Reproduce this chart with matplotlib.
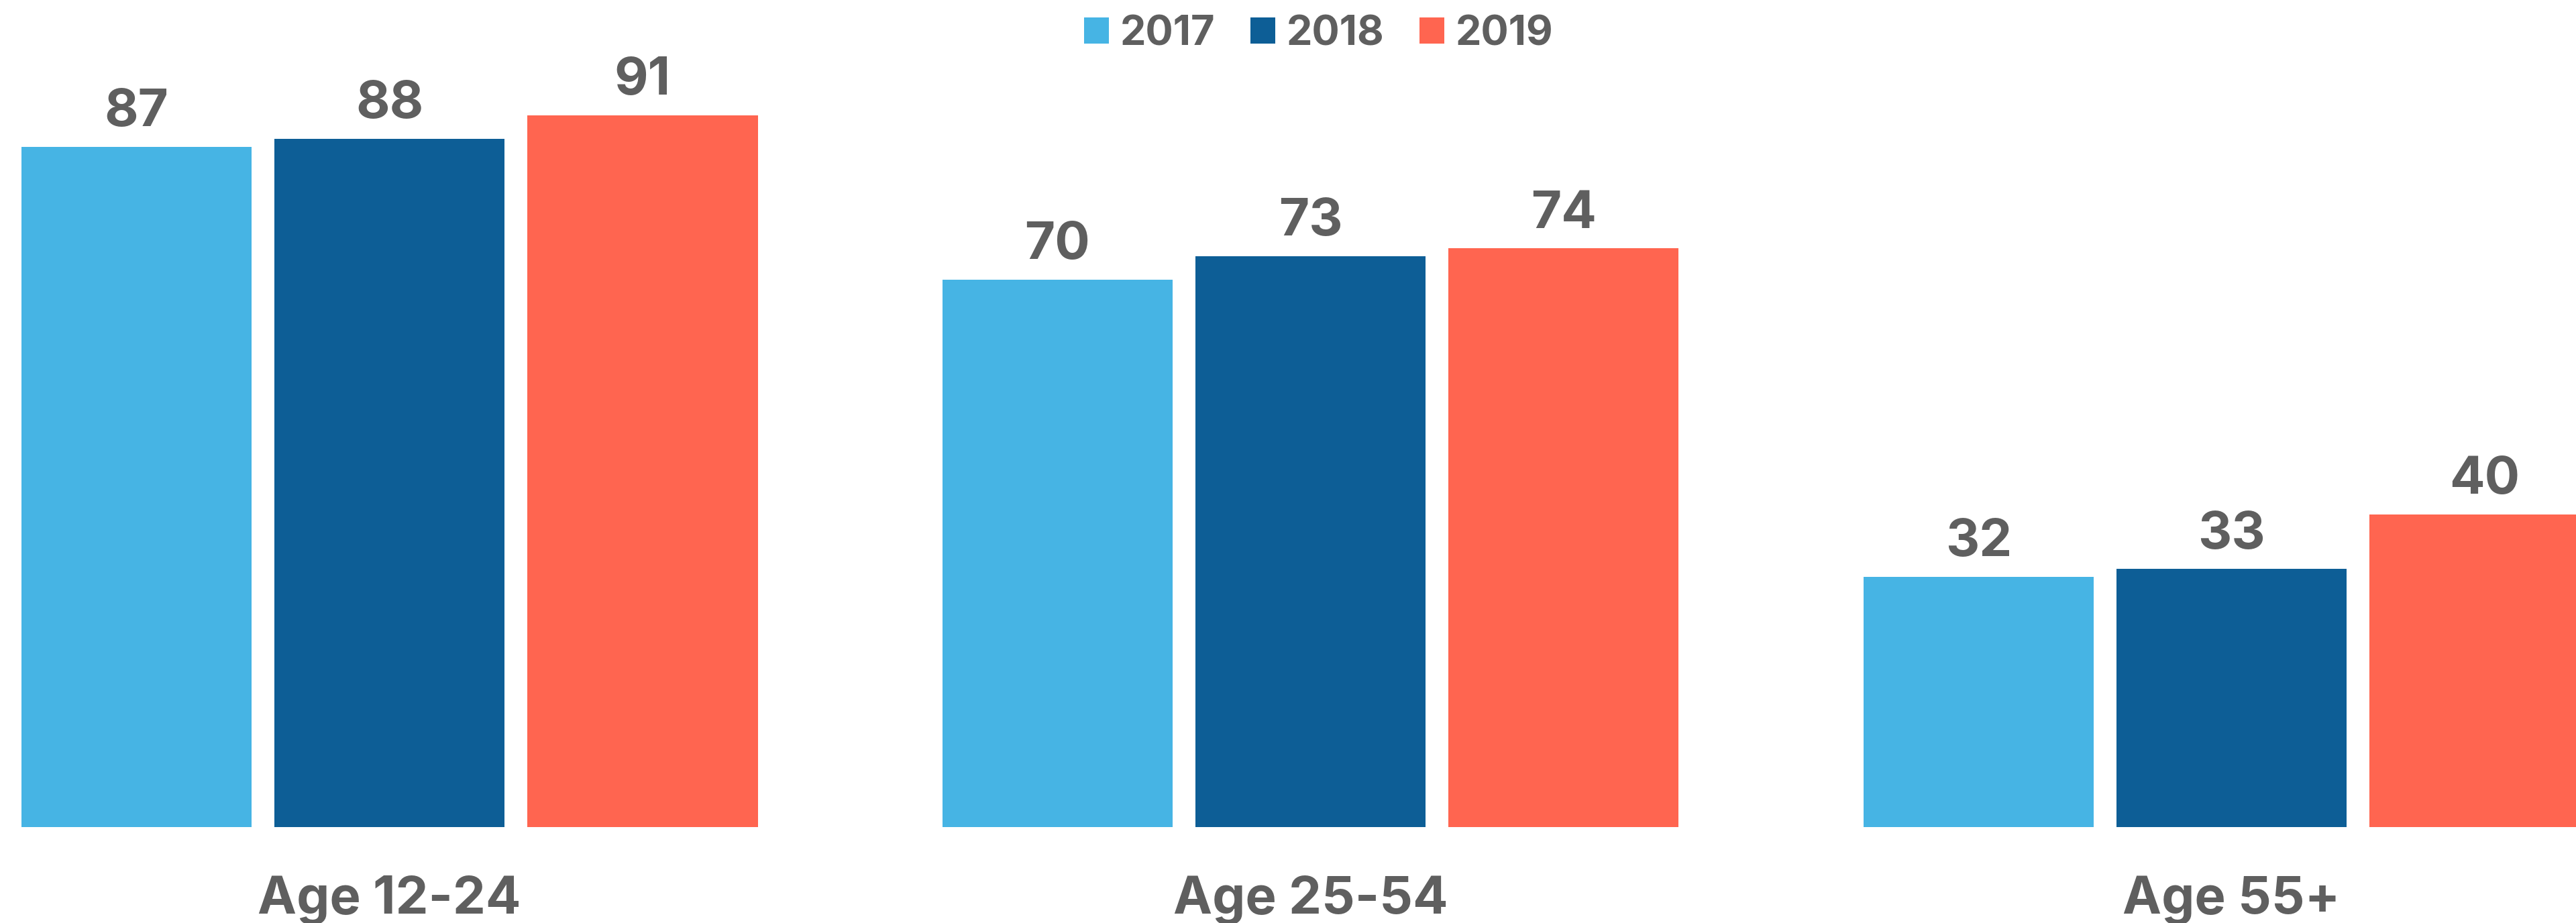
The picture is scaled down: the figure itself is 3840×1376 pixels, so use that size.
import matplotlib.pyplot as plt
import numpy as np
from matplotlib.patches import Patch

# 数据
categories = ["Age 12-24", "Age 25-54", "Age 55+"]
years = ["2017", "2018", "2019"]
values_2017 = [87, 70, 32]
values_2018 = [88, 73, 33]
values_2019 = [91, 74, 40]

colors = ["#46B4E4", "#0D5E96", "#FF6550"]
text_color = "#5F5F5F"

plt.rcParams["font.family"] = ["Inter", "DejaVu Sans"]

DPI = 100
fig = plt.figure(figsize=(38.41, 13.76), dpi=DPI)
ax = fig.add_axes([0, 143 / 1376, 1, 1166 / 1376])

x = np.arange(len(categories))
bar_w = 0.25
step = 0.2748

series = [values_2017, values_2018, values_2019]
for i, (vals, c) in enumerate(zip(series, colors)):
    xs = x + (i - 1) * step
    bars = ax.bar(xs, vals, width=bar_w, color=c, edgecolor="none")
    for b, v in zip(bars, vals):
        ax.annotate(
            f"{v}",
            xy=(b.get_x() + b.get_width() / 2, v),
            xytext=(0, 22),
            textcoords="offset points",
            ha="center",
            va="baseline",
            fontsize=56,
            fontweight="bold",
            color=text_color,
        )

# 分类标签
for xi, name in zip(x, categories):
    ax.annotate(
        name,
        xy=(xi, 0),
        xytext=(0, -93),
        textcoords="offset points",
        ha="center",
        va="baseline",
        fontsize=56,
        fontweight="bold",
        color=text_color,
        annotation_clip=False,
    )

ax.set_xlim(-0.4229, 2.3747)
ax.set_ylim(0, 100)
ax.axis("off")

# 图例
handles = [Patch(facecolor=c, edgecolor="none") for c in colors]
leg = fig.legend(
    handles,
    years,
    loc="center",
    bbox_to_anchor=(1966 / 3841, 1 - 51 / 1376),
    ncol=3,
    frameon=False,
    fontsize=44,
    handlelength=0.6,
    handleheight=0.6,
    handletextpad=0.28,
    columnspacing=0.86,
    borderpad=0,
)
for t in leg.get_texts():
    t.set_color(text_color)
    t.set_fontweight("bold")

fig.savefig("out.png", dpi=DPI, facecolor="white")
